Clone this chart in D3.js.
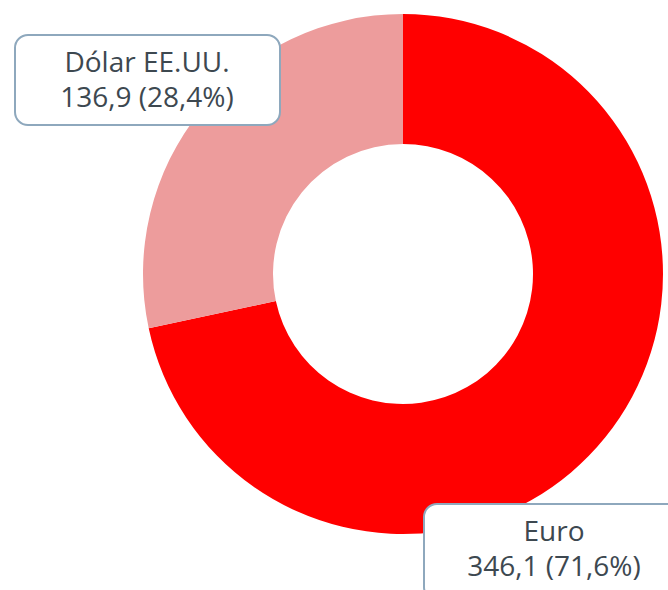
<!DOCTYPE html>
<html>
<head>
<meta charset="utf-8">
<script src="https://cdn.jsdelivr.net/npm/d3@7"></script>
<style>
  html, body { margin: 0; padding: 0; background: #fff; }
  svg { display: block; }
</style>
</head>
<body>
<svg id="chart" width="668" height="590"></svg>
<script>
// Currency composition (values and shares)
const categories = ["Euro", "Dólar EE.UU."];
const values = [346.1, 136.9];
const shares = ["71,6%", "28,4%"];
const valueLabels = ["346,1", "136,9"];
const colors = ["#ff0000", "#ed9c9c"];

const svg = d3.select("#chart");
const cx = 403, cy = 274, rOuter = 260, rInner = 130;

const pie = d3.pie().sort(null).value(d => d.value);
const arc = d3.arc().innerRadius(rInner).outerRadius(rOuter);
const data = categories.map((c, i) => ({ name: c, value: values[i], share: shares[i], label: valueLabels[i], color: colors[i] }));
const arcs = pie(data);

const g = svg.append("g").attr("transform", `translate(${cx},${cy})`);
g.selectAll("path").data(arcs).join("path")
  .attr("d", arc)
  .attr("fill", d => d.data.color);

// Callout boxes
const boxes = [
  { idx: 0, x: 424, y: 504, w: 262, h: 96, cx: 554 },
  { idx: 1, x: 15, y: 35, w: 265, h: 90, cx: 147 }
];
const fontFamily = "'Open Sans', sans-serif";
boxes.forEach(b => {
  const d = arcs[b.idx].data;
  svg.append("rect")
    .attr("x", b.x).attr("y", b.y).attr("width", b.w).attr("height", b.h)
    .attr("rx", 13).attr("ry", 13)
    .attr("fill", "#fff").attr("stroke", "#8ea8bd").attr("stroke-width", 2);
  const t = svg.append("text")
    .attr("text-anchor", "middle")
    .attr("font-family", fontFamily)
    .attr("font-size", 28)
    .attr("fill", "#3d4850");
  t.append("tspan").attr("x", b.cx).attr("y", b.y + 37).text(d.name);
  t.append("tspan").attr("x", b.cx).attr("y", b.y + 72).text(`${d.label} (${d.share})`);
});
</script>
</body>
</html>
